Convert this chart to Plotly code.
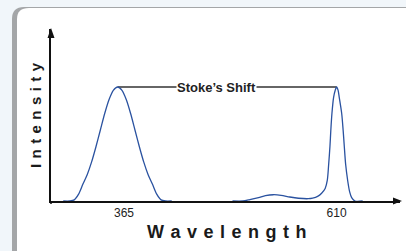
import plotly.graph_objects as go

# Excitation peak (wavelength nm, relative intensity)
ex_wl = [295, 302.7, 307.7, 312.7, 317.7, 322.7, 327.7, 332.7, 337.7, 342.7, 347.7, 352.7, 357.7,
         362.7, 367.7, 372.7, 377.7, 382.7, 387.7, 392.7, 397.7, 402.7, 407.7, 412.7, 420]
ex_int = [0, 0, 0.01, 0.06, 0.149, 0.233, 0.343, 0.476, 0.621, 0.765, 0.888, 0.971, 1.0,
          0.971, 0.888, 0.765, 0.621, 0.476, 0.343, 0.233, 0.149, 0.06, 0.01, 0, 0]

# Emission peak (with small shoulder band)
em_wl = [490, 502, 510, 520, 528, 537, 546, 556, 566, 577.3, 582.4, 588.1, 592.7, 596.8, 599.2,
         600.8, 602.3, 603.3, 604.6, 606.5, 608.3, 610, 611.7, 613.0, 615.8, 617.5, 618.8, 620.4,
         622.7, 625, 627.3, 631.1, 640]
em_int = [0, 0, 0.012, 0.03, 0.047, 0.055, 0.05, 0.035, 0.024, 0.02, 0.025, 0.04, 0.068, 0.11, 0.18,
          0.32, 0.48, 0.62, 0.77, 0.91, 0.97, 1.0, 0.97, 0.91, 0.77, 0.62, 0.48, 0.32,
          0.18, 0.08, 0.03, 0, 0]

shift_wl = [357.7, 610]
shift_int = [1.0, 1.0]

tick_vals = [365, 610]
tick_text = ["365", "610"]

FONT = "Arial, Liberation Sans, sans-serif"
W, H = 406, 251
L, R, T, B = 51, 6, 29, 50

fig = go.Figure()
fig.add_trace(go.Scatter(x=shift_wl, y=shift_int, mode="lines",
                         line=dict(color="#333333", width=1.5), hoverinfo="skip"))
fig.add_trace(go.Scatter(x=ex_wl, y=ex_int, mode="lines", line_shape="spline",
                         line=dict(color="#2a52a0", width=1.3, smoothing=0.8)))
fig.add_trace(go.Scatter(x=em_wl, y=em_int, mode="lines", line_shape="spline",
                         line=dict(color="#2a52a0", width=1.3, smoothing=0.8)))

sp = " \u200a"
def spaced(s):
    return sp.join(list(s))

shapes = [
    # panel shadow / border
    dict(type="path", xref="paper", yref="paper", xsizemode="pixel", ysizemode="pixel",
         xanchor=0, yanchor=0, layer="below",
         path="M-39,-52 L-39,182 Q-39,194 -27,194 L370,194 L370,-52 Z",
         fillcolor="#a4a6a8", line=dict(width=0)),
    dict(type="path", xref="paper", yref="paper", xsizemode="pixel", ysizemode="pixel",
         xanchor=0, yanchor=0, layer="below",
         path="M-34,-52 L-34,182 Q-34,193 -22,193 L370,193 L370,-52 Z",
         fillcolor="#ffffff", line=dict(width=0)),
    # y axis extension below x axis
    dict(type="line", xref="paper", yref="paper", xsizemode="pixel", ysizemode="pixel",
         xanchor=0, yanchor=0, x0=0, x1=0, y0=-3, y1=0, line=dict(color="#111111", width=1.5)),
    # arrow heads
    dict(type="path", xref="paper", yref="paper", xsizemode="pixel", ysizemode="pixel",
         xanchor=0, yanchor=1, path="M-3.5,-9 L3.5,-9 L0,1 Z",
         fillcolor="#111111", line=dict(width=0)),
    dict(type="path", xref="paper", yref="paper", xsizemode="pixel", ysizemode="pixel",
         xanchor=1, yanchor=0, path="M-7,-3.5 L2,0 L-7,3.5 Z",
         fillcolor="#111111", line=dict(width=0)),
]

annotations = [
    dict(x=471, y=1.0, xref="x", yref="y", text="<b>Stoke’s Shift</b>", showarrow=False,
         font=dict(family=FONT, size=13, color="#222222"), bgcolor="#ffffff",
         borderpad=0, xanchor="center", yanchor="middle"),
    dict(x=(227 - L) / (W - L - R), y=(201 - 232) / (H - T - B), xref="paper", yref="paper",
         text="<b>" + spaced("Wavelength") + "</b>", showarrow=False,
         font=dict(family=FONT, size=18, color="#1a1a1a"), xanchor="center", yanchor="middle"),
    dict(x=(35 - L) / (W - L - R), y=(201 - 115) / (H - T - B), xref="paper", yref="paper",
         text="<b>" + spaced("Intensity") + "</b>", showarrow=False, textangle=-90,
         font=dict(family=FONT, size=15, color="#1a1a1a"), xanchor="center", yanchor="middle"),
]

fig.update_layout(
    width=W, height=H, margin=dict(l=L, r=R, t=T, b=B),
    paper_bgcolor="#f1f6fa", plot_bgcolor="rgba(0,0,0,0)",
    showlegend=False, shapes=shapes, annotations=annotations,
    xaxis=dict(range=[280.9, 683], tickvals=tick_vals, ticktext=tick_text, ticks="",
               showgrid=False, zeroline=False, showline=True, linecolor="#111111", linewidth=1.5,
               tickfont=dict(family=FONT, size=12, color="#222222"), fixedrange=True),
    yaxis=dict(range=[0, 1.509], showticklabels=False, ticks="", showgrid=False, zeroline=False,
               showline=True, linecolor="#111111", linewidth=1.5, fixedrange=True),
)

fig.write_html("out.html", config={"displayModeBar": False},
               post_script="document.body.style.margin='0';document.body.style.overflow='hidden';")
